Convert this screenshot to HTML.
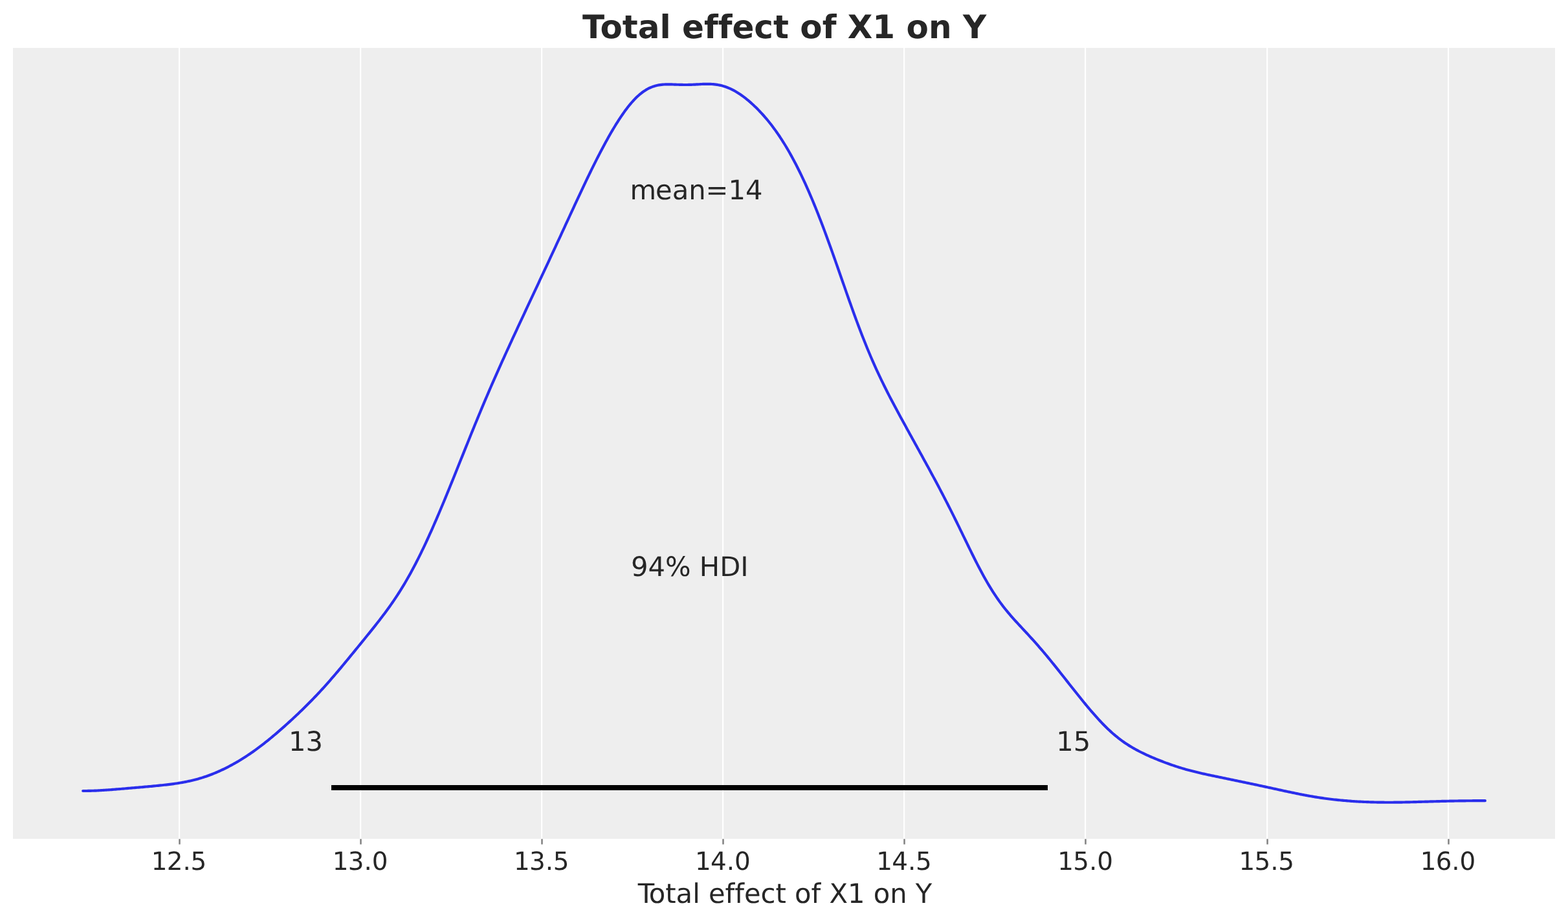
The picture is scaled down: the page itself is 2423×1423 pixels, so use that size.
<!DOCTYPE html>
<html lang="en">
<head>
<meta charset="utf-8">
<title>Total effect of X1 on Y</title>
<style>
html,body{margin:0;padding:0;background:#ffffff;}
body{width:2423px;height:1423px;overflow:hidden;}
svg{display:block;}
text{font-kerning:normal;font-variant-ligatures:none;font-feature-settings:'liga' 0,'clig' 0;text-rendering:geometricPrecision;}
</style>
</head>
<body>
<svg xmlns="http://www.w3.org/2000/svg" width="2423" height="1423" viewBox="0 0 2423 1423">
<rect x="0" y="0" width="2423" height="1423" fill="#ffffff"/>
<rect x="20" y="74" width="2383" height="1222" fill="#eeeeee"/>
<g stroke="#ffffff" stroke-width="2.2">
<line x1="277.1" y1="74" x2="277.1" y2="1296"/>
<line x1="557.1" y1="74" x2="557.1" y2="1296"/>
<line x1="837.1" y1="74" x2="837.1" y2="1296"/>
<line x1="1117.1" y1="74" x2="1117.1" y2="1296"/>
<line x1="1397.1" y1="74" x2="1397.1" y2="1296"/>
<line x1="1677.1" y1="74" x2="1677.1" y2="1296"/>
<line x1="1958.1" y1="74" x2="1958.1" y2="1296"/>
<line x1="2238.1" y1="74" x2="2238.1" y2="1296"/>
</g>
<g stroke="#808080" stroke-width="2.5">
<line x1="277.5" y1="1296.3" x2="277.5" y2="1304.6"/>
<line x1="557.5" y1="1296.3" x2="557.5" y2="1304.6"/>
<line x1="837.5" y1="1296.3" x2="837.5" y2="1304.6"/>
<line x1="1117.5" y1="1296.3" x2="1117.5" y2="1304.6"/>
<line x1="1397.5" y1="1296.3" x2="1397.5" y2="1304.6"/>
<line x1="1677.5" y1="1296.3" x2="1677.5" y2="1304.6"/>
<line x1="1958.5" y1="1296.3" x2="1958.5" y2="1304.6"/>
<line x1="2238.5" y1="1296.3" x2="2238.5" y2="1304.6"/>
</g>
<path d="M128.2,1222.00 L130.2,1222.00 L132.2,1221.98 L134.2,1221.96 L136.2,1221.93 L138.2,1221.89 L140.2,1221.84 L142.2,1221.78 L144.2,1221.71 L146.2,1221.64 L148.2,1221.56 L150.2,1221.47 L152.2,1221.37 L154.2,1221.27 L156.2,1221.16 L158.2,1221.04 L160.2,1220.92 L162.2,1220.79 L164.2,1220.66 L166.2,1220.52 L168.2,1220.38 L170.2,1220.23 L172.2,1220.08 L174.2,1219.93 L176.2,1219.77 L178.2,1219.61 L180.2,1219.45 L182.2,1219.29 L184.2,1219.13 L186.2,1218.96 L188.2,1218.79 L190.2,1218.63 L192.2,1218.46 L194.2,1218.29 L196.2,1218.12 L198.2,1217.94 L200.2,1217.77 L202.2,1217.60 L204.2,1217.43 L206.2,1217.26 L208.2,1217.09 L210.2,1216.91 L212.2,1216.74 L214.2,1216.57 L216.2,1216.39 L218.2,1216.22 L220.2,1216.05 L222.2,1215.87 L224.2,1215.70 L226.2,1215.52 L228.2,1215.34 L230.2,1215.16 L232.2,1214.98 L234.2,1214.80 L236.2,1214.61 L238.2,1214.43 L240.2,1214.24 L242.2,1214.04 L244.2,1213.85 L246.2,1213.65 L248.2,1213.44 L250.2,1213.23 L252.2,1213.02 L254.2,1212.80 L256.2,1212.58 L258.2,1212.35 L260.2,1212.11 L262.2,1211.86 L264.2,1211.61 L266.2,1211.35 L268.2,1211.08 L270.2,1210.80 L272.2,1210.51 L274.2,1210.20 L276.2,1209.89 L278.2,1209.56 L280.2,1209.22 L282.2,1208.87 L284.2,1208.51 L286.2,1208.13 L288.2,1207.73 L290.2,1207.32 L292.2,1206.89 L294.2,1206.45 L296.2,1205.98 L298.2,1205.50 L300.2,1205.01 L302.2,1204.49 L304.2,1203.95 L306.2,1203.40 L308.2,1202.83 L310.2,1202.23 L312.2,1201.62 L314.2,1200.98 L316.2,1200.33 L318.2,1199.66 L320.2,1198.96 L322.2,1198.24 L324.2,1197.51 L326.2,1196.75 L328.2,1195.97 L330.2,1195.17 L332.2,1194.35 L334.2,1193.51 L336.2,1192.65 L338.2,1191.77 L340.2,1190.87 L342.2,1189.95 L344.2,1189.01 L346.2,1188.05 L348.2,1187.07 L350.2,1186.07 L352.2,1185.05 L354.2,1184.01 L356.2,1182.95 L358.2,1181.87 L360.2,1180.77 L362.2,1179.65 L364.2,1178.51 L366.2,1177.35 L368.2,1176.18 L370.2,1174.98 L372.2,1173.76 L374.2,1172.52 L376.2,1171.27 L378.2,1169.99 L380.2,1168.70 L382.2,1167.38 L384.2,1166.05 L386.2,1164.69 L388.2,1163.32 L390.2,1161.92 L392.2,1160.51 L394.2,1159.08 L396.2,1157.63 L398.2,1156.16 L400.2,1154.67 L402.2,1153.17 L404.2,1151.64 L406.2,1150.10 L408.2,1148.54 L410.2,1146.97 L412.2,1145.37 L414.2,1143.77 L416.2,1142.14 L418.2,1140.50 L420.2,1138.85 L422.2,1137.18 L424.2,1135.50 L426.2,1133.80 L428.2,1132.09 L430.2,1130.37 L432.2,1128.63 L434.2,1126.89 L436.2,1125.13 L438.2,1123.36 L440.2,1121.58 L442.2,1119.78 L444.2,1117.98 L446.2,1116.17 L448.2,1114.34 L450.2,1112.50 L452.2,1110.66 L454.2,1108.80 L456.2,1106.93 L458.2,1105.05 L460.2,1103.15 L462.2,1101.25 L464.2,1099.33 L466.2,1097.40 L468.2,1095.46 L470.2,1093.50 L472.2,1091.53 L474.2,1089.55 L476.2,1087.55 L478.2,1085.53 L480.2,1083.50 L482.2,1081.46 L484.2,1079.39 L486.2,1077.32 L488.2,1075.22 L490.2,1073.11 L492.2,1070.98 L494.2,1068.83 L496.2,1066.67 L498.2,1064.48 L500.2,1062.28 L502.2,1060.07 L504.2,1057.83 L506.2,1055.58 L508.2,1053.32 L510.2,1051.04 L512.2,1048.74 L514.2,1046.43 L516.2,1044.10 L518.2,1041.76 L520.2,1039.41 L522.2,1037.05 L524.2,1034.67 L526.2,1032.29 L528.2,1029.89 L530.2,1027.49 L532.2,1025.08 L534.2,1022.66 L536.2,1020.24 L538.2,1017.81 L540.2,1015.38 L542.2,1012.94 L544.2,1010.50 L546.2,1008.06 L548.2,1005.61 L550.2,1003.16 L552.2,1000.72 L554.2,998.26 L556.2,995.81 L558.2,993.36 L560.2,990.90 L562.2,988.45 L564.2,985.98 L566.2,983.52 L568.2,981.05 L570.2,978.58 L572.2,976.10 L574.2,973.61 L576.2,971.11 L578.2,968.60 L580.2,966.08 L582.2,963.55 L584.2,961.00 L586.2,958.43 L588.2,955.84 L590.2,953.23 L592.2,950.59 L594.2,947.93 L596.2,945.24 L598.2,942.52 L600.2,939.76 L602.2,936.97 L604.2,934.14 L606.2,931.27 L608.2,928.36 L610.2,925.40 L612.2,922.40 L614.2,919.35 L616.2,916.25 L618.2,913.10 L620.2,909.90 L622.2,906.64 L624.2,903.33 L626.2,899.96 L628.2,896.54 L630.2,893.05 L632.2,889.51 L634.2,885.92 L636.2,882.26 L638.2,878.54 L640.2,874.77 L642.2,870.94 L644.2,867.05 L646.2,863.11 L648.2,859.11 L650.2,855.05 L652.2,850.95 L654.2,846.78 L656.2,842.57 L658.2,838.31 L660.2,834.00 L662.2,829.64 L664.2,825.23 L666.2,820.78 L668.2,816.29 L670.2,811.75 L672.2,807.18 L674.2,802.57 L676.2,797.92 L678.2,793.23 L680.2,788.52 L682.2,783.77 L684.2,779.00 L686.2,774.19 L688.2,769.36 L690.2,764.51 L692.2,759.63 L694.2,754.74 L696.2,749.82 L698.2,744.89 L700.2,739.95 L702.2,734.99 L704.2,730.02 L706.2,725.05 L708.2,720.06 L710.2,715.08 L712.2,710.09 L714.2,705.10 L716.2,700.11 L718.2,695.12 L720.2,690.14 L722.2,685.16 L724.2,680.20 L726.2,675.25 L728.2,670.30 L730.2,665.38 L732.2,660.47 L734.2,655.57 L736.2,650.70 L738.2,645.84 L740.2,641.00 L742.2,636.19 L744.2,631.40 L746.2,626.63 L748.2,621.89 L750.2,617.17 L752.2,612.48 L754.2,607.81 L756.2,603.16 L758.2,598.54 L760.2,593.94 L762.2,589.37 L764.2,584.82 L766.2,580.29 L768.2,575.78 L770.2,571.29 L772.2,566.83 L774.2,562.38 L776.2,557.94 L778.2,553.53 L780.2,549.13 L782.2,544.74 L784.2,540.37 L786.2,536.01 L788.2,531.66 L790.2,527.32 L792.2,522.99 L794.2,518.67 L796.2,514.35 L798.2,510.04 L800.2,505.74 L802.2,501.44 L804.2,497.14 L806.2,492.85 L808.2,488.57 L810.2,484.28 L812.2,480.00 L814.2,475.72 L816.2,471.44 L818.2,467.17 L820.2,462.89 L822.2,458.62 L824.2,454.35 L826.2,450.07 L828.2,445.80 L830.2,441.53 L832.2,437.26 L834.2,432.99 L836.2,428.71 L838.2,424.44 L840.2,420.16 L842.2,415.88 L844.2,411.60 L846.2,407.32 L848.2,403.03 L850.2,398.74 L852.2,394.45 L854.2,390.15 L856.2,385.85 L858.2,381.55 L860.2,377.24 L862.2,372.93 L864.2,368.62 L866.2,364.30 L868.2,359.97 L870.2,355.65 L872.2,351.32 L874.2,346.99 L876.2,342.66 L878.2,338.33 L880.2,334.00 L882.2,329.68 L884.2,325.35 L886.2,321.03 L888.2,316.72 L890.2,312.41 L892.2,308.12 L894.2,303.83 L896.2,299.56 L898.2,295.30 L900.2,291.05 L902.2,286.82 L904.2,282.62 L906.2,278.43 L908.2,274.27 L910.2,270.13 L912.2,266.01 L914.2,261.93 L916.2,257.87 L918.2,253.84 L920.2,249.85 L922.2,245.89 L924.2,241.97 L926.2,238.09 L928.2,234.24 L930.2,230.44 L932.2,226.67 L934.2,222.95 L936.2,219.28 L938.2,215.65 L940.2,212.07 L942.2,208.54 L944.2,205.06 L946.2,201.64 L948.2,198.27 L950.2,194.96 L952.2,191.71 L954.2,188.53 L956.2,185.40 L958.2,182.35 L960.2,179.36 L962.2,176.45 L964.2,173.61 L966.2,170.84 L968.2,168.16 L970.2,165.56 L972.2,163.04 L974.2,160.61 L976.2,158.27 L978.2,156.02 L980.2,153.87 L982.2,151.81 L984.2,149.85 L986.2,147.98 L988.2,146.22 L990.2,144.56 L992.2,143.00 L994.2,141.54 L996.2,140.18 L998.2,138.92 L1000.2,137.76 L1002.2,136.70 L1004.2,135.73 L1006.2,134.86 L1008.2,134.08 L1010.2,133.39 L1012.2,132.78 L1014.2,132.25 L1016.2,131.80 L1018.2,131.42 L1020.2,131.10 L1022.2,130.85 L1024.2,130.66 L1026.2,130.51 L1028.2,130.42 L1030.2,130.36 L1032.2,130.34 L1034.2,130.34 L1036.2,130.37 L1038.2,130.42 L1040.2,130.48 L1042.2,130.56 L1044.2,130.63 L1046.2,130.71 L1048.2,130.78 L1050.2,130.85 L1052.2,130.90 L1054.2,130.95 L1056.2,130.98 L1058.2,130.99 L1060.2,130.99 L1062.2,130.97 L1064.2,130.94 L1066.2,130.89 L1068.2,130.82 L1070.2,130.74 L1072.2,130.65 L1074.2,130.56 L1076.2,130.45 L1078.2,130.34 L1080.2,130.23 L1082.2,130.13 L1084.2,130.03 L1086.2,129.95 L1088.2,129.88 L1090.2,129.82 L1092.2,129.80 L1094.2,129.80 L1096.2,129.83 L1098.2,129.89 L1100.2,130.00 L1102.2,130.15 L1104.2,130.34 L1106.2,130.58 L1108.2,130.87 L1110.2,131.21 L1112.2,131.61 L1114.2,132.07 L1116.2,132.58 L1118.2,133.16 L1120.2,133.79 L1122.2,134.49 L1124.2,135.24 L1126.2,136.06 L1128.2,136.94 L1130.2,137.88 L1132.2,138.88 L1134.2,139.94 L1136.2,141.05 L1138.2,142.23 L1140.2,143.46 L1142.2,144.74 L1144.2,146.08 L1146.2,147.48 L1148.2,148.92 L1150.2,150.42 L1152.2,151.96 L1154.2,153.56 L1156.2,155.21 L1158.2,156.90 L1160.2,158.64 L1162.2,160.43 L1164.2,162.27 L1166.2,164.16 L1168.2,166.09 L1170.2,168.07 L1172.2,170.11 L1174.2,172.19 L1176.2,174.32 L1178.2,176.51 L1180.2,178.74 L1182.2,181.03 L1184.2,183.37 L1186.2,185.77 L1188.2,188.23 L1190.2,190.74 L1192.2,193.31 L1194.2,195.95 L1196.2,198.64 L1198.2,201.39 L1200.2,204.21 L1202.2,207.09 L1204.2,210.04 L1206.2,213.05 L1208.2,216.13 L1210.2,219.28 L1212.2,222.49 L1214.2,225.78 L1216.2,229.13 L1218.2,232.55 L1220.2,236.04 L1222.2,239.61 L1224.2,243.24 L1226.2,246.94 L1228.2,250.72 L1230.2,254.56 L1232.2,258.48 L1234.2,262.47 L1236.2,266.53 L1238.2,270.67 L1240.2,274.87 L1242.2,279.15 L1244.2,283.49 L1246.2,287.91 L1248.2,292.40 L1250.2,296.96 L1252.2,301.59 L1254.2,306.29 L1256.2,311.06 L1258.2,315.90 L1260.2,320.80 L1262.2,325.77 L1264.2,330.80 L1266.2,335.90 L1268.2,341.06 L1270.2,346.28 L1272.2,351.55 L1274.2,356.88 L1276.2,362.26 L1278.2,367.69 L1280.2,373.17 L1282.2,378.70 L1284.2,384.26 L1286.2,389.86 L1288.2,395.49 L1290.2,401.15 L1292.2,406.83 L1294.2,412.54 L1296.2,418.25 L1298.2,423.98 L1300.2,429.71 L1302.2,435.45 L1304.2,441.18 L1306.2,446.90 L1308.2,452.60 L1310.2,458.28 L1312.2,463.94 L1314.2,469.57 L1316.2,475.16 L1318.2,480.72 L1320.2,486.23 L1322.2,491.70 L1324.2,497.11 L1326.2,502.47 L1328.2,507.77 L1330.2,513.00 L1332.2,518.18 L1334.2,523.29 L1336.2,528.33 L1338.2,533.30 L1340.2,538.20 L1342.2,543.03 L1344.2,547.80 L1346.2,552.48 L1348.2,557.10 L1350.2,561.65 L1352.2,566.14 L1354.2,570.55 L1356.2,574.90 L1358.2,579.19 L1360.2,583.42 L1362.2,587.59 L1364.2,591.71 L1366.2,595.78 L1368.2,599.79 L1370.2,603.77 L1372.2,607.70 L1374.2,611.59 L1376.2,615.44 L1378.2,619.27 L1380.2,623.06 L1382.2,626.83 L1384.2,630.58 L1386.2,634.30 L1388.2,638.01 L1390.2,641.70 L1392.2,645.38 L1394.2,649.04 L1396.2,652.70 L1398.2,656.35 L1400.2,659.99 L1402.2,663.63 L1404.2,667.27 L1406.2,670.90 L1408.2,674.53 L1410.2,678.16 L1412.2,681.79 L1414.2,685.42 L1416.2,689.05 L1418.2,692.68 L1420.2,696.32 L1422.2,699.95 L1424.2,703.59 L1426.2,707.24 L1428.2,710.89 L1430.2,714.54 L1432.2,718.20 L1434.2,721.87 L1436.2,725.55 L1438.2,729.23 L1440.2,732.93 L1442.2,736.63 L1444.2,740.36 L1446.2,744.09 L1448.2,747.84 L1450.2,751.60 L1452.2,755.39 L1454.2,759.19 L1456.2,763.01 L1458.2,766.86 L1460.2,770.72 L1462.2,774.61 L1464.2,778.52 L1466.2,782.46 L1468.2,786.42 L1470.2,790.40 L1472.2,794.40 L1474.2,798.42 L1476.2,802.47 L1478.2,806.53 L1480.2,810.61 L1482.2,814.70 L1484.2,818.80 L1486.2,822.92 L1488.2,827.04 L1490.2,831.16 L1492.2,835.28 L1494.2,839.39 L1496.2,843.50 L1498.2,847.59 L1500.2,851.67 L1502.2,855.72 L1504.2,859.74 L1506.2,863.73 L1508.2,867.69 L1510.2,871.60 L1512.2,875.47 L1514.2,879.30 L1516.2,883.06 L1518.2,886.77 L1520.2,890.43 L1522.2,894.01 L1524.2,897.54 L1526.2,900.99 L1528.2,904.38 L1530.2,907.69 L1532.2,910.93 L1534.2,914.10 L1536.2,917.20 L1538.2,920.22 L1540.2,923.17 L1542.2,926.05 L1544.2,928.87 L1546.2,931.61 L1548.2,934.30 L1550.2,936.92 L1552.2,939.48 L1554.2,941.98 L1556.2,944.44 L1558.2,946.85 L1560.2,949.21 L1562.2,951.53 L1564.2,953.82 L1566.2,956.08 L1568.2,958.31 L1570.2,960.51 L1572.2,962.70 L1574.2,964.87 L1576.2,967.03 L1578.2,969.18 L1580.2,971.33 L1582.2,973.47 L1584.2,975.62 L1586.2,977.78 L1588.2,979.94 L1590.2,982.11 L1592.2,984.29 L1594.2,986.49 L1596.2,988.70 L1598.2,990.92 L1600.2,993.17 L1602.2,995.43 L1604.2,997.71 L1606.2,1000.01 L1608.2,1002.33 L1610.2,1004.66 L1612.2,1007.02 L1614.2,1009.39 L1616.2,1011.78 L1618.2,1014.18 L1620.2,1016.60 L1622.2,1019.04 L1624.2,1021.49 L1626.2,1023.95 L1628.2,1026.43 L1630.2,1028.91 L1632.2,1031.41 L1634.2,1033.91 L1636.2,1036.42 L1638.2,1038.94 L1640.2,1041.47 L1642.2,1044.00 L1644.2,1046.53 L1646.2,1049.06 L1648.2,1051.60 L1650.2,1054.13 L1652.2,1056.67 L1654.2,1059.20 L1656.2,1061.73 L1658.2,1064.26 L1660.2,1066.78 L1662.2,1069.30 L1664.2,1071.81 L1666.2,1074.31 L1668.2,1076.81 L1670.2,1079.29 L1672.2,1081.76 L1674.2,1084.21 L1676.2,1086.65 L1678.2,1089.08 L1680.2,1091.49 L1682.2,1093.88 L1684.2,1096.25 L1686.2,1098.59 L1688.2,1100.92 L1690.2,1103.21 L1692.2,1105.49 L1694.2,1107.73 L1696.2,1109.94 L1698.2,1112.12 L1700.2,1114.27 L1702.2,1116.39 L1704.2,1118.47 L1706.2,1120.51 L1708.2,1122.52 L1710.2,1124.48 L1712.2,1126.41 L1714.2,1128.29 L1716.2,1130.14 L1718.2,1131.94 L1720.2,1133.70 L1722.2,1135.42 L1724.2,1137.10 L1726.2,1138.73 L1728.2,1140.33 L1730.2,1141.88 L1732.2,1143.39 L1734.2,1144.86 L1736.2,1146.29 L1738.2,1147.68 L1740.2,1149.03 L1742.2,1150.35 L1744.2,1151.63 L1746.2,1152.87 L1748.2,1154.08 L1750.2,1155.26 L1752.2,1156.41 L1754.2,1157.54 L1756.2,1158.63 L1758.2,1159.70 L1760.2,1160.74 L1762.2,1161.76 L1764.2,1162.76 L1766.2,1163.73 L1768.2,1164.69 L1770.2,1165.63 L1772.2,1166.55 L1774.2,1167.46 L1776.2,1168.35 L1778.2,1169.23 L1780.2,1170.09 L1782.2,1170.94 L1784.2,1171.78 L1786.2,1172.60 L1788.2,1173.42 L1790.2,1174.22 L1792.2,1175.02 L1794.2,1175.80 L1796.2,1176.57 L1798.2,1177.33 L1800.2,1178.08 L1802.2,1178.83 L1804.2,1179.56 L1806.2,1180.28 L1808.2,1180.99 L1810.2,1181.69 L1812.2,1182.37 L1814.2,1183.05 L1816.2,1183.72 L1818.2,1184.37 L1820.2,1185.01 L1822.2,1185.64 L1824.2,1186.26 L1826.2,1186.87 L1828.2,1187.47 L1830.2,1188.05 L1832.2,1188.63 L1834.2,1189.19 L1836.2,1189.74 L1838.2,1190.28 L1840.2,1190.82 L1842.2,1191.34 L1844.2,1191.85 L1846.2,1192.35 L1848.2,1192.84 L1850.2,1193.33 L1852.2,1193.80 L1854.2,1194.27 L1856.2,1194.74 L1858.2,1195.19 L1860.2,1195.64 L1862.2,1196.09 L1864.2,1196.53 L1866.2,1196.96 L1868.2,1197.39 L1870.2,1197.82 L1872.2,1198.24 L1874.2,1198.66 L1876.2,1199.08 L1878.2,1199.50 L1880.2,1199.91 L1882.2,1200.33 L1884.2,1200.74 L1886.2,1201.15 L1888.2,1201.57 L1890.2,1201.98 L1892.2,1202.39 L1894.2,1202.80 L1896.2,1203.21 L1898.2,1203.62 L1900.2,1204.03 L1902.2,1204.45 L1904.2,1204.86 L1906.2,1205.27 L1908.2,1205.69 L1910.2,1206.10 L1912.2,1206.52 L1914.2,1206.93 L1916.2,1207.35 L1918.2,1207.77 L1920.2,1208.19 L1922.2,1208.60 L1924.2,1209.02 L1926.2,1209.44 L1928.2,1209.86 L1930.2,1210.29 L1932.2,1210.71 L1934.2,1211.13 L1936.2,1211.55 L1938.2,1211.98 L1940.2,1212.40 L1942.2,1212.83 L1944.2,1213.26 L1946.2,1213.69 L1948.2,1214.11 L1950.2,1214.54 L1952.2,1214.98 L1954.2,1215.41 L1956.2,1215.84 L1958.2,1216.27 L1960.2,1216.71 L1962.2,1217.14 L1964.2,1217.58 L1966.2,1218.01 L1968.2,1218.45 L1970.2,1218.89 L1972.2,1219.32 L1974.2,1219.76 L1976.2,1220.20 L1978.2,1220.63 L1980.2,1221.07 L1982.2,1221.50 L1984.2,1221.93 L1986.2,1222.37 L1988.2,1222.80 L1990.2,1223.22 L1992.2,1223.65 L1994.2,1224.07 L1996.2,1224.50 L1998.2,1224.91 L2000.2,1225.33 L2002.2,1225.74 L2004.2,1226.15 L2006.2,1226.55 L2008.2,1226.95 L2010.2,1227.34 L2012.2,1227.73 L2014.2,1228.12 L2016.2,1228.50 L2018.2,1228.87 L2020.2,1229.24 L2022.2,1229.60 L2024.2,1229.96 L2026.2,1230.31 L2028.2,1230.65 L2030.2,1230.99 L2032.2,1231.32 L2034.2,1231.64 L2036.2,1231.96 L2038.2,1232.27 L2040.2,1232.57 L2042.2,1232.87 L2044.2,1233.16 L2046.2,1233.44 L2048.2,1233.71 L2050.2,1233.98 L2052.2,1234.24 L2054.2,1234.50 L2056.2,1234.75 L2058.2,1234.99 L2060.2,1235.22 L2062.2,1235.45 L2064.2,1235.67 L2066.2,1235.88 L2068.2,1236.09 L2070.2,1236.29 L2072.2,1236.49 L2074.2,1236.68 L2076.2,1236.86 L2078.2,1237.03 L2080.2,1237.20 L2082.2,1237.37 L2084.2,1237.52 L2086.2,1237.67 L2088.2,1237.82 L2090.2,1237.96 L2092.2,1238.09 L2094.2,1238.22 L2096.2,1238.34 L2098.2,1238.46 L2100.2,1238.57 L2102.2,1238.68 L2104.2,1238.78 L2106.2,1238.87 L2108.2,1238.96 L2110.2,1239.04 L2112.2,1239.12 L2114.2,1239.20 L2116.2,1239.27 L2118.2,1239.33 L2120.2,1239.39 L2122.2,1239.44 L2124.2,1239.49 L2126.2,1239.53 L2128.2,1239.57 L2130.2,1239.61 L2132.2,1239.64 L2134.2,1239.67 L2136.2,1239.69 L2138.2,1239.70 L2140.2,1239.72 L2142.2,1239.73 L2144.2,1239.73 L2146.2,1239.73 L2148.2,1239.73 L2150.2,1239.72 L2152.2,1239.71 L2154.2,1239.70 L2156.2,1239.68 L2158.2,1239.66 L2160.2,1239.64 L2162.2,1239.61 L2164.2,1239.58 L2166.2,1239.55 L2168.2,1239.52 L2170.2,1239.48 L2172.2,1239.44 L2174.2,1239.40 L2176.2,1239.35 L2178.2,1239.31 L2180.2,1239.26 L2182.2,1239.21 L2184.2,1239.16 L2186.2,1239.11 L2188.2,1239.06 L2190.2,1239.00 L2192.2,1238.95 L2194.2,1238.89 L2196.2,1238.83 L2198.2,1238.78 L2200.2,1238.72 L2202.2,1238.66 L2204.2,1238.61 L2206.2,1238.55 L2208.2,1238.49 L2210.2,1238.43 L2212.2,1238.38 L2214.2,1238.32 L2216.2,1238.27 L2218.2,1238.21 L2220.2,1238.16 L2222.2,1238.10 L2224.2,1238.05 L2226.2,1238.00 L2228.2,1237.95 L2230.2,1237.90 L2232.2,1237.86 L2234.2,1237.81 L2236.2,1237.76 L2238.2,1237.72 L2240.2,1237.68 L2242.2,1237.64 L2244.2,1237.60 L2246.2,1237.56 L2248.2,1237.53 L2250.2,1237.49 L2252.2,1237.46 L2254.2,1237.43 L2256.2,1237.40 L2258.2,1237.37 L2260.2,1237.35 L2262.2,1237.32 L2264.2,1237.30 L2266.2,1237.28 L2268.2,1237.26 L2270.2,1237.24 L2272.2,1237.22 L2274.2,1237.21 L2276.2,1237.19 L2278.2,1237.18 L2280.2,1237.17 L2282.2,1237.16 L2284.2,1237.15 L2286.2,1237.14 L2288.2,1237.14 L2290.2,1237.13 L2292.2,1237.13 L2294.2,1237.13 L2294.9,1237.13" fill="none" stroke="#2a2eec" stroke-width="4.17" stroke-linecap="round" stroke-linejoin="round"/>
<line x1="512" y1="1217" x2="1619" y2="1217" stroke="#000000" stroke-width="8.0" stroke-linecap="butt"/>
<g font-family="'DejaVu Sans', 'Liberation Sans', sans-serif" fill="#262626">
<text x="1212.1" y="59.2" font-size="50" font-weight="bold" text-anchor="middle">Total effect of X1 on Y</text>
<text x="276.45" y="1344.1" dx="0 -0.75 0 -0.25" font-size="38.89" text-anchor="middle">12.5</text>
<text x="556.59" y="1344.1" dx="0 -0.75 0 -0.25" font-size="38.89" text-anchor="middle">13.0</text>
<text x="836.73" y="1344.1" dx="0 -0.75 0 -0.25" font-size="38.89" text-anchor="middle">13.5</text>
<text x="1116.87" y="1344.1" dx="0 -0.75 0 -0.25" font-size="38.89" text-anchor="middle">14.0</text>
<text x="1397.01" y="1344.1" dx="0 -0.75 0 -0.25" font-size="38.89" text-anchor="middle">14.5</text>
<text x="1677.15" y="1344.1" dx="0 -0.75 0 -0.25" font-size="38.89" text-anchor="middle">15.0</text>
<text x="1957.29" y="1344.1" dx="0 -0.75 0 -0.25" font-size="38.89" text-anchor="middle">15.5</text>
<text x="2237.43" y="1344.1" dx="0 -0.75 0 -0.25" font-size="38.89" text-anchor="middle">16.0</text>
<text x="1211.5" y="1394.9" dx="1.5 -1.3" font-size="41.67" text-anchor="middle">Total effect of X1 on Y</text>
<text x="1075" y="308.2" dx="1 -1" font-size="41.67" text-anchor="middle">mean=14</text>
<text x="1065.8" y="890" font-size="41.67" text-anchor="middle">94% HDI</text>
<text x="472.6" y="1159.6" font-size="41.67" text-anchor="middle">13</text>
<text x="1658.7" y="1159.8" font-size="41.67" text-anchor="middle">15</text>
</g>
</svg>
</body>
</html>
